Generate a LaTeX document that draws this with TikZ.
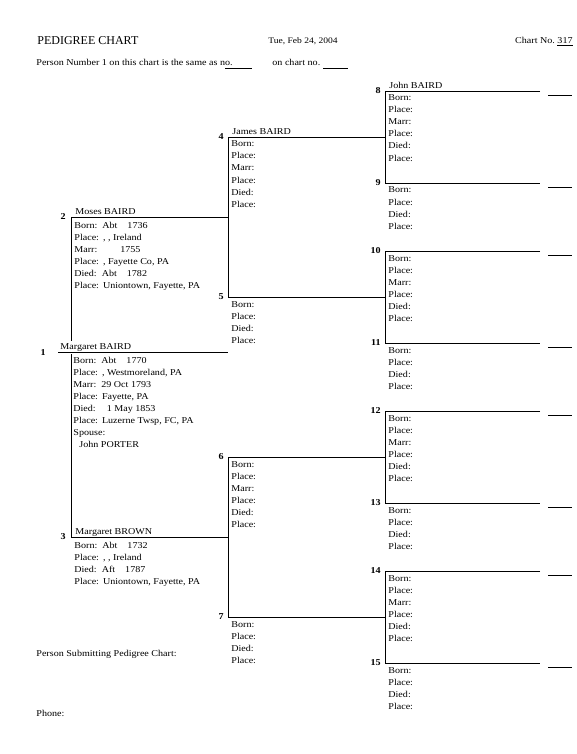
\documentclass[tikz,border=0pt]{standalone}
\usepackage{fontspec}
\setmainfont{Liberation Serif}
\newfontfamily\chartfont[FakeStretch=1.12]{Liberation Serif}

\tikzset{
  chart/.style={font=\chartfont\fontsize{9}{10}\selectfont},
  num/.style={font=\chartfont\bfseries\fontsize{9}{10}\selectfont, anchor=east, inner sep=0pt},
  who/.style={chart, anchor=base west, inner sep=0pt},
  info/.style={chart, anchor=base west, inner sep=0pt},
}

\begin{document}
\begin{tikzpicture}[x=1pt,y=-1pt,line width=0.8pt]
\useasboundingbox (0,0) rectangle (576,754);

% heading
\node[anchor=base west, inner sep=0pt, font=\fontsize{12}{14}\selectfont] (title) at (37,45) {PEDIGREE CHART};
\node[chart, anchor=base west, inner sep=0pt, font=\chartfont\fontsize{8.5}{10}\selectfont] (date) at (268,44) {Tue, Feb 24, 2004};
\node[chart, anchor=base east, inner sep=0pt] (chartno) at (573,44) {Chart No.\ \underline{317}};
\node[chart, anchor=base west, inner sep=0pt] (same) at (36,66) {Person Number 1 on this chart is the same as no.};
\node[chart, anchor=base west, inner sep=0pt] (onchart) at (272,66) {on chart no.};
\coordinate (blank1a) at (225,68); \coordinate (blank1b) at (252,68);
\coordinate (blank2a) at (323,68); \coordinate (blank2b) at (348,68);
\draw[line width=0.6pt] (blank1a) -- (blank1b);
\draw[line width=0.6pt] (blank2a) -- (blank2b);

% persons 2 and 3
\coordinate (w2) at (71,217); \coordinate (e2) at (228,217);
\coordinate (w3) at (71,537); \coordinate (e3) at (228,537);
\draw (e2) -- (w2) -- (w3) -- (e3);
\node[num] (n2) at (66,217) {2};
\node[num] (n3) at (66,537) {3};
\node[who] (name2) at (75,214.5) {Moses BAIRD};
\node[who] (name3) at (75,534.5) {Margaret BROWN};
\foreach \t [count=\i] in {{Born:\hspace{5pt}Abt\hspace{10pt}1736},
    {Place:\hspace{4pt}, , Ireland},
    {Marr:\hspace{23pt}1755},
    {Place:\hspace{4pt}, Fayette Co, PA},
    {Died:\hspace{5pt}Abt\hspace{10pt}1782},
    {Place:\hspace{4pt}Uniontown, Fayette, PA}}
  \node[info] at (74,{217-1+12*\i}) {\t};
\foreach \t [count=\i] in {{Born:\hspace{5pt}Abt\hspace{10pt}1732},
    {Place:\hspace{4pt}, , Ireland},
    {Died:\hspace{5pt}Aft\hspace{10pt}1787},
    {Place:\hspace{4pt}Uniontown, Fayette, PA}}
  \node[info] at (74,{537-1+12*\i}) {\t};

% person 1
\node[who, fill=white, inner ysep=3pt] (name1) at (60,349.5) {Margaret BAIRD};
\coordinate (w1) at (58,352); \coordinate (e1) at (228,352);
\draw (w1) -- (e1);
\node[num] (n1) at (46,353) {1};
\foreach \t [count=\i] in {{Born:\hspace{5pt}Abt\hspace{10pt}1770},
    {Place:\hspace{4pt}, Westmoreland, PA},
    {Marr:\hspace{5pt}29 Oct 1793},
    {Place:\hspace{4pt}Fayette, PA},
    {Died:\hspace{11pt}1 May 1853},
    {Place:\hspace{4pt}Luzerne Twsp, FC, PA},
    {Spouse:},
    {\hspace{6pt}John PORTER}}
  \node[info] at (73,{352-1+12*\i}) {\t};

% persons 4 to 7
\foreach \n/\y in {4/137,6/457}{
  \pgfmathtruncatemacro{\m}{\n+1}
  \pgfmathtruncatemacro{\z}{\y+160}
  \coordinate (w\n) at (228,\y); \coordinate (e\n) at (385,\y);
  \coordinate (w\m) at (228,\z); \coordinate (e\m) at (385,\z);
  \draw (e\n) -- (w\n) -- (w\m) -- (e\m);
  \node[num] (n\n) at (224,\y) {\n};
  \node[num] (n\m) at (224,\z) {\m};
  \foreach \t [count=\i] in {Born:,Place:,Marr:,Place:,Died:,Place:}
    \node[info] at (231,{\y-2+12*\i}) {\t};
  \foreach \t [count=\i] in {Born:,Place:,Died:,Place:}
    \node[info] at (231,{\z-2+12*\i}) {\t};
}
\node[who] (name4) at (232,134.5) {James BAIRD};

% persons 8 to 15
\foreach \n/\y in {8/91,10/251,12/411,14/571}{
  \pgfmathtruncatemacro{\m}{\n+1}
  \pgfmathtruncatemacro{\z}{\y+92}
  \coordinate (w\n) at (385,\y); \coordinate (e\n) at (540,\y);
  \coordinate (w\m) at (385,\z); \coordinate (e\m) at (540,\z);
  \draw (e\n) -- (w\n) -- (w\m) -- (e\m);
  \coordinate (a\n) at (548,\y+4); \coordinate (b\n) at (572,\y+4);
  \coordinate (a\m) at (548,\z+4); \coordinate (b\m) at (572,\z+4);
  \draw (a\n) -- (b\n);
  \draw (a\m) -- (b\m);
  \node[num] (n\n) at (381,\y) {\n};
  \node[num] (n\m) at (381,\z) {\m};
  \foreach \t [count=\i] in {Born:,Place:,Marr:,Place:,Died:,Place:}
    \node[info] at (388,{\y-2+12*\i}) {\t};
  \foreach \t [count=\i] in {Born:,Place:,Died:,Place:}
    \node[info] at (388,{\z-2+12*\i}) {\t};
}
\node[who] (name8) at (389,89) {John BAIRD};

% footer
\node[chart, anchor=base west, inner sep=0pt] (submit) at (36,656) {Person Submitting Pedigree Chart:};
\node[chart, anchor=base west, inner sep=0pt] (phone) at (36,716) {Phone:};
\end{tikzpicture}
\end{document}
